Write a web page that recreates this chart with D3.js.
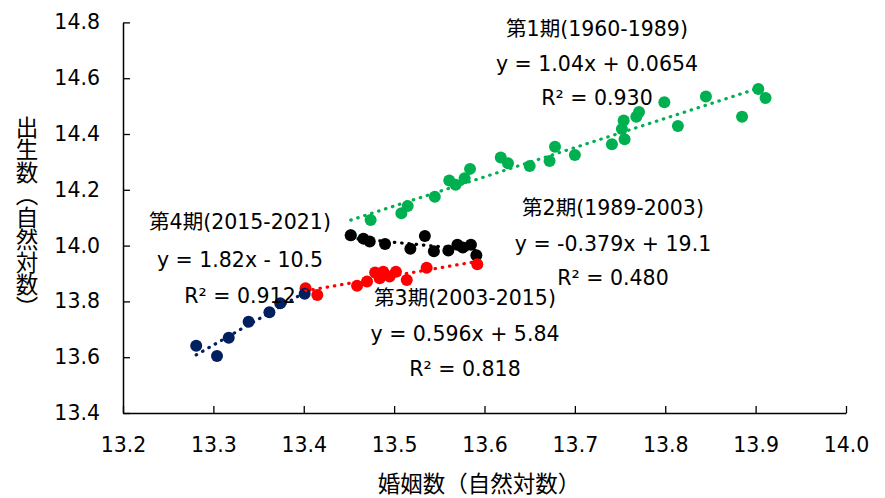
<!DOCTYPE html>
<html>
<head>
<meta charset="utf-8">
<script src="https://cdn.jsdelivr.net/npm/d3@7/dist/d3.min.js"></script>
<style>
  html, body { margin: 0; padding: 0; background: #fff; }
  svg { display: block; }
  text { font-family: "DejaVu Sans", "Noto Sans CJK JP", sans-serif; fill: #000; }
</style>
</head>
<body>
<svg id="chart" width="885" height="498"></svg>
<script>
// 婚姻数 (x) と 出生数 (y)、いずれも自然対数
const period1Marriages = [13.452, 13.474, 13.508, 13.515, 13.545, 13.561, 13.568, 13.578, 13.584, 13.618,
  13.626, 13.650, 13.672, 13.678, 13.700, 13.741, 13.755, 13.752, 13.754, 13.768,
  13.771, 13.799, 13.814, 13.845, 13.885, 13.903, 13.911];
const period1Births = [14.037, 14.092, 14.116, 14.142, 14.175, 14.233, 14.218, 14.241, 14.275, 14.316,
  14.295, 14.285, 14.303, 14.354, 14.325, 14.363, 14.381, 14.418, 14.448, 14.462,
  14.479, 14.514, 14.429, 14.534, 14.462, 14.561, 14.529];

const period2Marriages = [13.452, 13.466, 13.473, 13.490, 13.518, 13.534, 13.544, 13.560, 13.570, 13.576, 13.585, 13.591];
const period2Births = [14.037, 14.025, 14.015, 14.006, 13.989, 14.034, 13.980, 13.982, 14.003, 13.993, 14.003, 13.965];

const period3Marriages = [13.402, 13.415, 13.459, 13.470, 13.479, 13.484, 13.488, 13.495, 13.502, 13.514, 13.536, 13.592];
const period3Births = [13.847, 13.823, 13.856, 13.871, 13.904, 13.883, 13.906, 13.889, 13.906, 13.877, 13.921, 13.933];

const period4Marriages = [13.281, 13.304, 13.317, 13.339, 13.362, 13.374, 13.401];
const period4Births = [13.641, 13.604, 13.670, 13.727, 13.761, 13.793, 13.827];

const seriesNames = ["第1期(1960-1989)", "第2期(1989-2003)", "第3期(2003-2015)", "第4期(2015-2021)"];
const equationLabels = ["y = 1.04x + 0.0654", "y = -0.379x + 19.1", "y = 0.596x + 5.84", "y = 1.82x - 10.5"];
const r2Labels = ["R² = 0.930", "R² = 0.480", "R² = 0.818", "R² = 0.912"];
const seriesColors = ["#00b050", "#000000", "#ff0000", "#002060"];

const xTicks = [13.2, 13.3, 13.4, 13.5, 13.6, 13.7, 13.8, 13.9, 14.0];
const yTicks = [13.4, 13.6, 13.8, 14.0, 14.2, 14.4, 14.6, 14.8];
const xTitle = "婚姻数（自然対数）";
const yTitle = "出生数（自然対数）";

const series = [
  { xs: period1Marriages, ys: period1Births },
  { xs: period2Marriages, ys: period2Births },
  { xs: period3Marriages, ys: period3Births },
  { xs: period4Marriages, ys: period4Births }
].map((s, i) => ({
  name: seriesNames[i], eq: equationLabels[i], r2: r2Labels[i], color: seriesColors[i],
  points: s.xs.map((x, j) => ({ x, y: s.ys[j] }))
}));

// Label anchor positions (pixels) for each period's annotation block
const labelPos = [
  { x: 597, y: [29, 64, 98] },
  { x: 613, y: [208, 244, 278] },
  { x: 465, y: [298, 334, 369] },
  { x: 240, y: [222, 260, 296] }
];

const svg = d3.select("#chart");
const x = d3.scaleLinear().domain([13.2, 14.0]).range([123, 846]);
const y = d3.scaleLinear().domain([13.4, 14.8]).range([413, 22.4]);

const fmt = d3.format(".1f");

// Axes with inward ticks
const gx = svg.append("g").attr("transform", "translate(0,413)")
  .call(d3.axisBottom(x).tickValues(xTicks).tickFormat(fmt).tickSize(-7).tickPadding(24).tickSizeOuter(0));
const gy = svg.append("g").attr("transform", "translate(123,0)")
  .call(d3.axisLeft(y).tickValues(yTicks).tickFormat(fmt).tickSize(-7).tickPadding(23).tickSizeOuter(0));
[gx, gy].forEach(g => {
  g.select(".domain").attr("stroke", "#000").attr("stroke-width", 1.5);
  g.selectAll(".tick line").attr("stroke", "#000").attr("stroke-width", 1.3);
  g.selectAll(".tick text").style("font-size", "20.5px").attr("fill", "#000")
    .style("font-family", "'DejaVu Sans', sans-serif");
});

// Markers
series.forEach(s => {
  svg.append("g").selectAll("circle").data(s.points).join("circle")
    .attr("cx", d => x(d.x)).attr("cy", d => y(d.y)).attr("r", 6)
    .attr("fill", s.color);
});

// Least-squares trendlines, dotted, drawn across each period's x range
function fit(pts) {
  const mx = d3.mean(pts, p => p.x), my = d3.mean(pts, p => p.y);
  let sxy = 0, sxx = 0;
  pts.forEach(p => { sxy += (p.x - mx) * (p.y - my); sxx += (p.x - mx) ** 2; });
  const b = sxy / sxx;
  return { b, a: my - b * mx };
}
const line = d3.line().x(d => x(d.x)).y(d => y(d.y));
series.forEach(s => {
  const f = fit(s.points);
  const [x0, x1] = d3.extent(s.points, p => p.x);
  svg.append("path")
    .attr("d", line([{ x: x0, y: f.a + f.b * x0 }, { x: x1, y: f.a + f.b * x1 }]))
    .attr("fill", "none").attr("stroke", s.color).attr("stroke-width", 3.2)
    .attr("stroke-linecap", "round").attr("stroke-dasharray", "0.5 6.8");
});

// Period annotations
series.forEach((s, i) => {
  const p = labelPos[i];
  [s.name, s.eq, s.r2].forEach((t, k) => {
    svg.append("text").attr("x", p.x).attr("y", p.y[k])
      .attr("text-anchor", "middle").attr("dominant-baseline", "central")
      .style("font-size", "20.5px").text(t);
  });
});

// Axis titles
svg.append("text").attr("x", 479).attr("y", 484)
  .attr("text-anchor", "middle").attr("dominant-baseline", "central")
  .style("font-size", "22.5px").text(xTitle);
svg.append("text").attr("x", 25).attr("y", 217)
  .attr("text-anchor", "middle")
  .style("writing-mode", "vertical-rl").style("glyph-orientation-vertical", "0")
  .style("font-size", "22.5px").text(yTitle);
</script>
</body>
</html>
